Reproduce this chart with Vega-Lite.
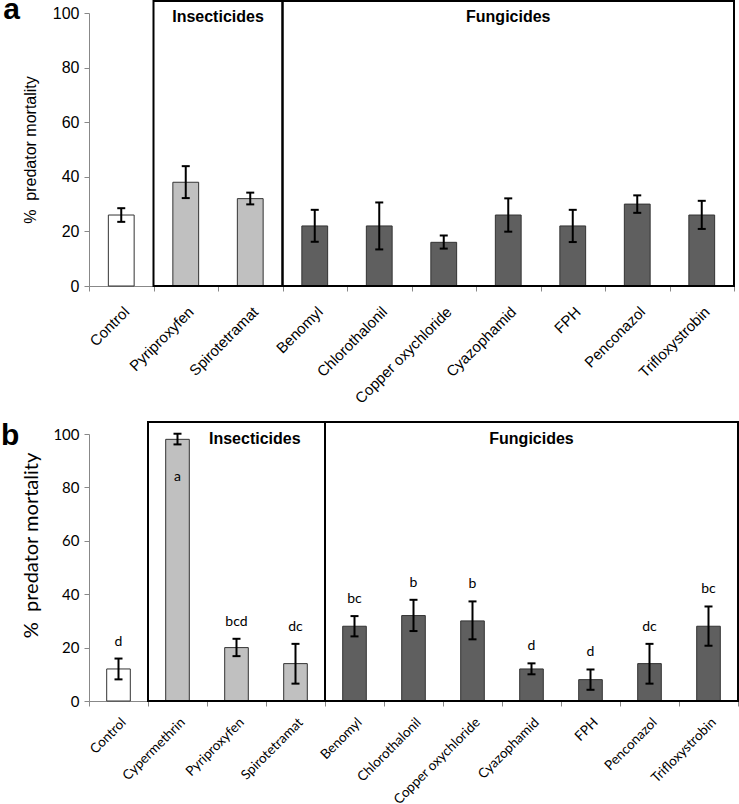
{
  "$schema": "https://vega.github.io/schema/vega-lite/v6.json",
  "background": "white",
  "padding": {"left": 0, "top": -6, "right": 3, "bottom": 0},
  "spacing": 14,
  "config": {"view": {"stroke": null}, "font": "Liberation Sans"},
  "datasets": {
    "a": [
      {"cat": "Control", "group": "control", "mean": 26, "lo": 23.5, "hi": 28.5},
      {"cat": "Pyriproxyfen", "group": "ins", "mean": 38, "lo": 32.2, "hi": 43.9},
      {"cat": "Spirotetramat", "group": "ins", "mean": 32, "lo": 29.9, "hi": 34.2},
      {"cat": "Benomyl", "group": "fun", "mean": 22, "lo": 16.2, "hi": 27.9},
      {"cat": "Chlorothalonil", "group": "fun", "mean": 22, "lo": 13.4, "hi": 30.6},
      {"cat": "Copper oxychloride", "group": "fun", "mean": 16, "lo": 13.7, "hi": 18.5},
      {"cat": "Cyazophamid", "group": "fun", "mean": 26, "lo": 19.9, "hi": 32.1},
      {"cat": "FPH", "group": "fun", "mean": 22, "lo": 16.1, "hi": 27.9},
      {"cat": "Penconazol", "group": "fun", "mean": 30, "lo": 26.8, "hi": 33.2},
      {"cat": "Trifloxystrobin", "group": "fun", "mean": 26, "lo": 20.9, "hi": 31.2}
    ],
    "b": [
      {"cat": "Control", "group": "control", "mean": 12, "lo": 8.1, "hi": 15.9, "letter": "d"},
      {"cat": "Cypermethrin", "group": "ins", "mean": 98, "lo": 96.1, "hi": 100.1, "letter": "a"},
      {"cat": "Pyriproxyfen", "group": "ins", "mean": 20, "lo": 16.8, "hi": 23.3, "letter": "bcd"},
      {"cat": "Spirotetramat", "group": "ins", "mean": 14, "lo": 6.5, "hi": 21.4, "letter": "dc"},
      {"cat": "Benomyl", "group": "fun", "mean": 28, "lo": 24.2, "hi": 31.8, "letter": "bc"},
      {"cat": "Chlorothalonil", "group": "fun", "mean": 32, "lo": 26.2, "hi": 37.9, "letter": "b"},
      {"cat": "Copper oxychloride", "group": "fun", "mean": 30, "lo": 23.1, "hi": 37.3, "letter": "b"},
      {"cat": "Cyazophamid", "group": "fun", "mean": 12, "lo": 10, "hi": 14.1, "letter": "d"},
      {"cat": "FPH", "group": "fun", "mean": 8, "lo": 4.2, "hi": 11.8, "letter": "d"},
      {"cat": "Penconazol", "group": "fun", "mean": 14, "lo": 6.5, "hi": 21.4, "letter": "dc"},
      {"cat": "Trifloxystrobin", "group": "fun", "mean": 28, "lo": 20.7, "hi": 35.4, "letter": "bc"}
    ]
  },
  "vconcat": [
    {
      "width": 645,
      "height": 273,
      "title": {"text": "a", "anchor": "start", "frame": "bounds", "fontSize": 30, "fontWeight": "bold", "font": "Liberation Sans", "color": "black", "dx": -19, "dy": 25, "offset": 0},
      "data": {"name": "a"},
      "layer": [
        {
          "mark": {"type": "bar", "width": {"band": 0.4}, "stroke": "#333333", "strokeWidth": 1},
          "encoding": {
            "x": {"field": "cat", "type": "nominal",
              "scale": {"domain": ["Control", "Pyriproxyfen", "Spirotetramat", "Benomyl", "Chlorothalonil", "Copper oxychloride", "Cyazophamid", "FPH", "Penconazol", "Trifloxystrobin"], "paddingInner": 0, "paddingOuter": 0},
              "axis": {"title": null, "labelAngle": -45, "labelFontSize": 15, "labelFont": "Liberation Sans", "labelColor": "black", "domainColor": "#888888", "tickColor": "#888888", "tickBand": "extent", "tickSize": 5, "labelPadding": 13, "labelAlign": "right", "labelBaseline": "top"}},
            "y": {"field": "mean", "type": "quantitative", "scale": {"domain": [0, 100], "nice": false},
              "axis": {"title": "% \u00a0predator mortality", "values": [0, 20, 40, 60, 80, 100], "grid": false, "labelFontSize": 16, "labelFont": "Liberation Sans", "labelColor": "black", "titleFont": "Liberation Sans", "titleFontSize": 16, "titleFontWeight": "normal", "titleColor": "black", "domainColor": "#888888", "tickColor": "#888888", "tickSize": 5, "labelPadding": 5, "titlePadding": 14}},
            "fill": {"field": "group", "type": "nominal", "scale": {"domain": ["control", "ins", "fun"], "range": ["#ffffff", "#c0c0c0", "#5f5f5f"]}, "legend": null}
          }
        },
        {
          "data": {"values": [{"start": "Pyriproxyfen", "end": "Spirotetramat"}, {"start": "Benomyl", "end": "Trifloxystrobin"}]},
          "mark": {"type": "rect", "fill": null, "fillOpacity": 0, "stroke": "black", "strokeWidth": 2},
          "encoding": {
            "x": {"field": "start", "type": "nominal", "bandPosition": 0},
            "x2": {"field": "end", "bandPosition": 1},
            "y": {"datum": 0, "type": "quantitative"},
            "y2": {"datum": 104.4}
          }
        },
        {
          "mark": {"type": "rule", "strokeWidth": 2, "color": "black"},
          "encoding": {
            "x": {"field": "cat", "type": "nominal"},
            "y": {"field": "lo", "type": "quantitative"},
            "y2": {"field": "hi"}
          }
        },
        {
          "mark": {"type": "tick", "size": 8, "thickness": 2, "color": "black", "opacity": 1},
          "encoding": {
            "x": {"field": "cat", "type": "nominal"},
            "y": {"field": "lo", "type": "quantitative"}
          }
        },
        {
          "mark": {"type": "tick", "size": 8, "thickness": 2, "color": "black", "opacity": 1},
          "encoding": {
            "x": {"field": "cat", "type": "nominal"},
            "y": {"field": "hi", "type": "quantitative"}
          }
        },
        {
          "data": {"values": [{"label": "Insecticides", "cat": "Spirotetramat"}]},
          "mark": {"type": "text", "font": "Liberation Sans", "fontSize": 16, "fontWeight": "bold", "color": "black", "align": "center", "baseline": "middle"},
          "encoding": {
            "x": {"field": "cat", "type": "nominal", "bandPosition": 0},
            "y": {"datum": 98.5, "type": "quantitative"},
            "text": {"field": "label"}
          }
        },
        {
          "data": {"values": [{"label": "Fungicides", "cat": "Cyazophamid"}]},
          "mark": {"type": "text", "font": "Liberation Sans", "fontSize": 16, "fontWeight": "bold", "color": "black", "align": "center", "baseline": "middle"},
          "encoding": {
            "x": {"field": "cat", "type": "nominal", "bandPosition": 0.5},
            "y": {"datum": 98.5, "type": "quantitative"},
            "text": {"field": "label"}
          }
        }
      ]
    },
    {
      "width": 649,
      "height": 267,
      "title": {"text": "b", "anchor": "start", "frame": "bounds", "fontSize": 30, "fontWeight": "bold", "font": "Liberation Sans", "color": "black", "dx": -21, "dy": 30, "offset": 0},
      "data": {"name": "b"},
      "layer": [
        {
          "mark": {"type": "bar", "width": {"band": 0.4}, "stroke": "#333333", "strokeWidth": 1},
          "encoding": {
            "x": {"field": "cat", "type": "nominal",
              "scale": {"domain": ["Control", "Cypermethrin", "Pyriproxyfen", "Spirotetramat", "Benomyl", "Chlorothalonil", "Copper oxychloride", "Cyazophamid", "FPH", "Penconazol", "Trifloxystrobin"], "paddingInner": 0, "paddingOuter": 0},
              "axis": {"title": null, "labelAngle": -45, "labelFontSize": 13.5, "labelFont": "Lato", "labelColor": "black", "domainColor": "#888888", "tickColor": "#888888", "tickBand": "extent", "tickSize": 5, "labelPadding": 9, "labelAlign": "right", "labelBaseline": "top"}},
            "y": {"field": "mean", "type": "quantitative", "scale": {"domain": [0, 100], "nice": false},
              "axis": {"title": "% \u00a0predator mortality", "values": [0, 20, 40, 60, 80, 100], "grid": false, "labelFontSize": 15, "labelFont": "Lato", "labelColor": "black", "titleFont": "Lato", "titleFontSize": 20, "titleFontWeight": "normal", "titleColor": "black", "titleY": 111, "domainColor": "#888888", "tickColor": "#888888", "tickSize": 5, "labelPadding": 5, "titlePadding": 11}},
            "fill": {"field": "group", "type": "nominal", "scale": {"domain": ["control", "ins", "fun"], "range": ["#ffffff", "#c0c0c0", "#5f5f5f"]}, "legend": null}
          }
        },
        {
          "data": {"values": [{"start": "Cypermethrin", "end": "Spirotetramat"}, {"start": "Benomyl", "end": "Trifloxystrobin"}]},
          "mark": {"type": "rect", "fill": null, "fillOpacity": 0, "stroke": "black", "strokeWidth": 2},
          "encoding": {
            "x": {"field": "start", "type": "nominal", "bandPosition": 0},
            "x2": {"field": "end", "bandPosition": 1},
            "y": {"datum": 0, "type": "quantitative"},
            "y2": {"datum": 104.5}
          }
        },
        {
          "mark": {"type": "rule", "strokeWidth": 2, "color": "black"},
          "encoding": {
            "x": {"field": "cat", "type": "nominal"},
            "y": {"field": "lo", "type": "quantitative"},
            "y2": {"field": "hi"}
          }
        },
        {
          "mark": {"type": "tick", "size": 8, "thickness": 2, "color": "black", "opacity": 1},
          "encoding": {
            "x": {"field": "cat", "type": "nominal"},
            "y": {"field": "lo", "type": "quantitative"}
          }
        },
        {
          "mark": {"type": "tick", "size": 8, "thickness": 2, "color": "black", "opacity": 1},
          "encoding": {
            "x": {"field": "cat", "type": "nominal"},
            "y": {"field": "hi", "type": "quantitative"}
          }
        },
        {
          "transform": [{"filter": "datum.cat !== 'Cypermethrin'"}],
          "mark": {"type": "text", "font": "Lato", "fontSize": 14, "color": "black", "align": "center", "baseline": "middle", "dy": -17},
          "encoding": {
            "x": {"field": "cat", "type": "nominal"},
            "y": {"field": "hi", "type": "quantitative"},
            "text": {"field": "letter"}
          }
        },
        {
          "transform": [{"filter": "datum.cat === 'Cypermethrin'"}],
          "mark": {"type": "text", "font": "Lato", "fontSize": 14, "color": "black", "align": "center", "baseline": "middle", "dy": 38},
          "encoding": {
            "x": {"field": "cat", "type": "nominal"},
            "y": {"field": "mean", "type": "quantitative"},
            "text": {"field": "letter"}
          }
        },
        {
          "data": {"values": [{"label": "Insecticides", "cat": "Pyriproxyfen"}]},
          "mark": {"type": "text", "font": "Liberation Sans", "fontSize": 16, "fontWeight": "bold", "color": "black", "align": "center", "baseline": "middle"},
          "encoding": {
            "x": {"field": "cat", "type": "nominal", "bandPosition": 0.81},
            "y": {"datum": 98.1, "type": "quantitative"},
            "text": {"field": "label"}
          }
        },
        {
          "data": {"values": [{"label": "Fungicides", "cat": "Cyazophamid"}]},
          "mark": {"type": "text", "font": "Liberation Sans", "fontSize": 16, "fontWeight": "bold", "color": "black", "align": "center", "baseline": "middle"},
          "encoding": {
            "x": {"field": "cat", "type": "nominal", "bandPosition": 0.5},
            "y": {"datum": 98.1, "type": "quantitative"},
            "text": {"field": "label"}
          }
        }
      ]
    }
  ]
}
